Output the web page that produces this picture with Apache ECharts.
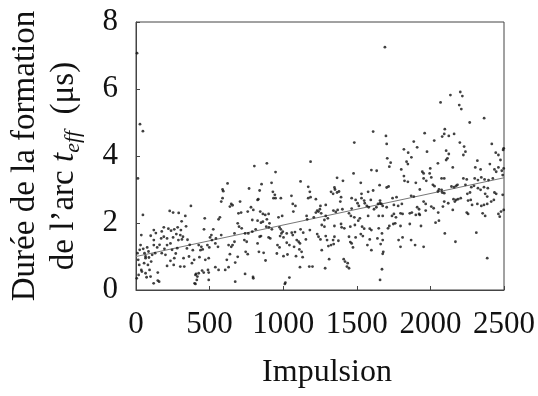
<!DOCTYPE html>
<html>
<head>
<meta charset="utf-8">
<script src="https://cdn.jsdelivr.net/npm/echarts@6/dist/echarts.min.js"></script>
<style>
html,body{margin:0;padding:0;background:#fff;}
#chart{width:538px;height:396px;}
</style>
</head>
<body>
<div id="chart"></div>
<script>
// Tick values
const xTicks = [0, 500, 1000, 1500, 2000, 2500];
const yTicks = [0, 2, 4, 6, 8];

// Trend line
const trendX = [0, 2500];
const trendY = [1.0, 3.35];

// Scatter points [impulsion, durée], by region
const ptsA = [[7,7.07],[27,4.95],[47,4.74],[13,3.33],[47,2.24],
[229,2.36],[252,2.31],[373,2.51],[335,2.21],[121,1.79],[36,1.64],[189,1.87],[220,1.83],[238,1.77],[260,1.81],[283,1.87],[305,1.79],[274,1.67],[301,1.64],[319,1.59],[312,1.51],[288,1.49],[252,1.57],[171,1.54],[121,1.34],[144,1.27],[193,1.23],[211,1.34],[234,1.39],[346,1.24],[31,1.34],[49,1.23],[76,1.27],[65,0.95],[88,0.97],[103,0.85],[81,0.75],[22,0.75],[36,0.6],[18,0.45],[65,0.5],[72,0.38],[99,0.4],[148,0.52],[148,0.28],[211,0.72],[234,0.87],[260,0.95],[256,0.75],[301,0.7],[328,0.7],[323,0.95],[270,1.09],[386,1.19],[395,0.9],[404,0.45],[413,0.3],[404,0.18],[157,0.25],[121,1.49],[65,1.0],[189,1.59],[211,1.54],
[10,1.1],[15,0.9],[25,1.2],[40,0.55],[55,0.8],[58,1.1],[85,1.15],[110,1.05],[130,1.1],[160,1.35],[175,1.1],[200,1.05],[245,1.2],[280,1.25],[350,1.5],[365,1.35],[380,0.8],[100,1.62],[135,1.7],[175,1.75],[310,2.05],[290,2.3],[340,1.9],[360,1.0],[5,0.35],[92,0.6],[120,0.2]];

const ptsB = [[804,3.70],[622,3.18],[588,3.0],[593,2.95],[768,3.03],[579,2.64],[588,2.74],[647,2.57],[656,2.53],[638,2.49],[707,2.64],[826,2.69],[467,2.14],[561,2.11],[570,2.17],[525,1.81],[462,1.81],[696,2.29],[714,2.31],[759,2.34],[781,2.47],[797,2.39],[826,2.07],[790,2.09],[691,1.99],[700,1.89],[718,1.84],[741,1.69],[763,1.69],[790,1.74],[813,1.81],[669,1.69],[579,1.64],[512,1.64],[503,1.57],[516,1.49],[539,1.39],[557,1.29],[543,1.54],[426,1.34],[444,1.29],[453,1.21],[438,1.19],[485,1.34],[498,1.27],[629,1.34],[647,1.29],[656,1.34],[669,1.44],[736,1.49],[752,1.44],[826,1.39],[431,0.98],[471,0.9],[494,0.95],[638,1.07],[691,0.99],[745,1.14],[759,1.07],[617,0.9],[539,0.68],[561,0.6],[606,0.6],[629,0.68],[674,0.82],[449,0.58],[460,0.52],[426,0.5],[489,0.6],[494,0.52],[408,0.48],[417,0.4],[741,0.48],[797,0.35],[674,0.25],[494,0.3],[398,0.2],[795,0.39]];

const ptsC = [[889,3.78],[1186,3.83],[948,3.52],[1118,3.24],[853,3.16],[921,3.2],[840,2.97],[930,2.93],[943,2.84],[934,2.74],[948,2.74],[984,2.74],[1056,2.81],[1065,2.57],[1083,2.51],[1170,3.08],[1181,2.93],[1170,2.74],[1186,2.77],[1222,2.71],[831,2.71],[844,2.34],[862,2.27],[878,2.24],[901,2.27],[849,2.01],[862,2.04],[889,2.11],[907,1.99],[968,2.17],[993,2.21],[1069,2.34],[1159,2.21],[1163,2.11],[1222,2.31],[1231,2.37],[1240,2.34],[1249,2.41],[1208,2.17],[885,1.89],[903,1.87],[923,1.81],[975,1.87],[984,1.81],[997,1.74],[988,1.69],[1024,1.69],[1058,1.71],[1080,1.73],[1065,1.64],[1118,1.81],[1136,1.71],[1181,1.79],[849,1.61],[840,1.59],[901,1.57],[912,1.54],[979,1.61],[1002,1.57],[1231,1.67],[1240,1.59],[1092,1.49],[1105,1.44],[1114,1.39],[1154,1.51],[961,1.34],[975,1.27],[1024,1.41],[1042,1.34],[1074,1.29],[835,1.14],[867,1.11],[1002,1.01],[1029,1.06],[1087,1.01],[1110,1.21],[1125,1.14],[1132,0.98],[880,0.88],[957,1.09],[1114,0.68],[1177,0.7],[1199,0.7],[1042,0.37],[1011,0.18],[1015,0.22]];

const ptsD = [[1611,4.73],[1483,4.4],[1366,3.35],[1406,3.26],[1599,3.58],[1635,3.56],[1478,3.48],[1527,3.2],[1348,3.06],[1325,2.93],[1339,2.87],[1366,2.91],[1379,2.94],[1352,3.0],[1532,2.87],[1577,2.93],[1611,2.97],[1655,3.13],[1393,2.77],[1388,2.64],[1465,2.74],[1492,2.69],[1532,2.74],[1550,2.67],[1595,2.69],[1658,2.67],[1289,2.54],[1253,2.51],[1258,2.29],[1341,2.37],[1357,2.33],[1370,2.39],[1402,2.41],[1465,2.43],[1505,2.59],[1514,2.51],[1554,2.59],[1568,2.51],[1581,2.47],[1617,2.41],[1633,2.47],[1644,2.57],[1667,2.57],[1289,2.21],[1303,2.14],[1280,2.09],[1447,2.29],[1460,2.21],[1483,2.17],[1510,2.07],[1521,2.14],[1577,2.21],[1649,2.21],[1262,1.94],[1280,1.89],[1348,1.91],[1393,1.97],[1397,1.87],[1415,1.84],[1456,1.89],[1487,1.94],[1536,1.89],[1550,1.83],[1588,1.83],[1599,1.79],[1649,1.84],[1253,1.51],[1289,1.61],[1298,1.49],[1348,1.59],[1339,1.49],[1375,1.47],[1447,1.59],[1456,1.43],[1465,1.39],[1492,1.57],[1527,1.67],[1541,1.61],[1588,1.51],[1640,1.54],[1307,1.31],[1325,1.34],[1343,1.37],[1474,1.27],[1572,1.34],[1262,1.19],[1599,1.19],[1662,1.37],[1312,0.92],[1411,0.92],[1420,0.85],[1438,0.8],[1433,0.7],[1447,0.65],[1285,0.65],[1658,0.3]];

const ptsE = [[1691,7.25],[1698,4.6],[1703,4.36],[1961,4.68],[2080,4.58],[2026,4.46],[1887,4.43],[1910,4.26],[1820,4.2],[1849,4.1],[1977,4.13],[1707,3.93],[1730,3.8],[1721,3.68],[1871,3.96],[1838,3.83],[1847,3.76],[1802,3.6],[1945,3.53],[1954,3.48],[1999,3.63],[1995,3.48],[2006,3.36],[2051,3.78],[1820,3.4],[1824,3.26],[1847,3.23],[1954,3.33],[1972,3.26],[2076,3.33],[1703,3.06],[1716,3.09],[1901,3.2],[2017,3.14],[2028,3.1],[2058,3.0],[2076,2.99],[1928,3.0],[1770,2.77],[1743,2.74],[1869,2.81],[1887,2.79],[2051,2.94],[1658,2.59],[1676,2.51],[1703,2.47],[1752,2.54],[1781,2.51],[1806,2.57],[1910,2.47],[1923,2.41],[1954,2.64],[1968,2.57],[2006,2.49],[2022,2.44],[2085,2.49],[1676,2.21],[1739,2.21],[1752,2.27],[1766,2.17],[1797,2.29],[1811,2.27],[1860,2.29],[1874,2.31],[1901,2.24],[1923,2.27],[1928,2.24],[1968,2.37],[2053,2.31],[1712,1.84],[1721,1.91],[1748,1.97],[1761,1.99],[1797,1.91],[1860,1.97],[1936,1.91],[2035,2.01],[2058,2.07],[1671,1.69],[1676,1.49],[1784,1.49],[1811,1.57],[1869,1.49],[1797,1.29],[1896,1.34],[1954,1.29],[1680,1.14],[1676,1.08],[1671,0.62]];

const ptsF = [[2136,5.82],[2203,5.91],[2217,5.79],[2196,5.52],[2210,5.4],[2069,5.6],[2365,5.13],[2267,5.0],[2094,4.66],[2125,4.6],[2161,4.66],[2098,4.8],[2200,4.4],[2229,4.28],[2417,4.36],[2107,4.16],[2125,4.06],[2116,3.93],[2107,3.88],[2238,4.13],[2224,4.03],[2444,4.1],[2462,4.03],[2476,3.88],[2494,4.18],[2498,4.23],[2319,3.86],[2305,3.66],[2341,3.6],[2404,3.76],[2152,3.66],[2435,3.6],[2447,3.53],[2462,3.66],[2485,3.56],[2498,3.63],[2491,3.43],[2094,3.33],[2224,3.33],[2247,3.3],[2238,3.14],[2301,3.33],[2323,3.28],[2346,3.36],[2368,3.3],[2395,3.28],[2424,3.33],[2175,3.11],[2184,3.14],[2161,3.07],[2143,3.09],[2278,3.07],[2296,3.11],[2323,3.04],[2341,2.99],[2364,3.07],[2390,3.04],[2080,2.91],[2094,2.89],[2251,2.87],[2269,2.91],[2372,2.87],[2386,2.79],[2435,2.91],[2447,2.87],[2491,2.84],[2157,2.71],[2175,2.69],[2188,2.71],[2166,2.64],[2206,2.74],[2256,2.67],[2274,2.69],[2319,2.57],[2346,2.51],[2364,2.54],[2386,2.57],[2413,2.64],[2431,2.69],[2283,2.54],[2498,2.39],[2480,2.34],[2462,2.27],[2471,2.19],[2121,2.59],[2094,2.64],[2247,2.31],[2256,2.27],[2355,2.29],[2372,2.21],[2152,2.39],[2098,1.69],[2312,1.71],[2170,1.44],[2386,0.95]];

const points = [].concat(ptsA, ptsB, ptsC, ptsD, ptsE, ptsF);

const SERIF = 'Liberation Serif';
const chart = echarts.init(document.getElementById('chart'), null, {renderer: 'canvas'});

chart.setOption({
  animation: false,
  backgroundColor: '#fff',
  grid: {left: 136, right: 31, top: 22, bottom: 106, show: true, borderColor: '#444', borderWidth: 1},
  xAxis: {
    type: 'value', min: xTicks[0], max: xTicks[xTicks.length - 1], interval: 500,
    axisLine: {show: true, lineStyle: {color: '#444', width: 1}},
    axisTick: {show: true, inside: true, length: 4, lineStyle: {color: '#444'}},
    axisLabel: {margin: 19, fontFamily: SERIF, fontSize: 31, color: '#111', formatter: v => String(v)},
    splitLine: {show: false}
  },
  yAxis: {
    type: 'value', min: yTicks[0], max: yTicks[yTicks.length - 1], interval: 2,
    axisLine: {show: true, lineStyle: {color: '#444', width: 1}},
    axisTick: {show: true, inside: true, length: 4, lineStyle: {color: '#444'}},
    axisLabel: {margin: 18, fontFamily: SERIF, fontSize: 31, color: '#111', formatter: v => String(v)},
    splitLine: {show: false}
  },
  graphic: [
    {type: 'text', x: 25, y: 156, rotation: Math.PI / 2,
     style: {text: 'Durée de la formation', font: '33px "Liberation Serif"', fill: '#111', align: 'center', verticalAlign: 'middle'}},
    {type: 'text', x: 64, y: 166, rotation: Math.PI / 2,
     style: {
       text: '{n|de l\u2019arc }{t|t}{s|eff}{n|  (\u03BCs)}',
       align: 'center', verticalAlign: 'middle',
       rich: {
         n: {fontFamily: SERIF, fontSize: 33, lineHeight: 40, verticalAlign: 'middle', fill: '#111'},
         t: {fontFamily: SERIF, fontStyle: 'italic', fontSize: 33, lineHeight: 40, verticalAlign: 'middle', fill: '#111'},
         s: {fontFamily: SERIF, fontStyle: 'italic', fontSize: 22, lineHeight: 22, verticalAlign: 'bottom', fill: '#111'}
       }
     }},
    {type: 'text', x: 327, y: 373,
     style: {text: 'Impulsion', font: '32px "Liberation Serif"', fill: '#111', align: 'center', verticalAlign: 'middle'}}
  ],
  series: [
    {type: 'line', data: trendX.map((x, i) => [x, trendY[i]]), showSymbol: false, symbol: 'none',
     lineStyle: {color: '#777', width: 1}, silent: true, z: 1},
    {type: 'scatter', data: points, symbol: 'circle', symbolSize: 2.8,
     itemStyle: {color: '#111'}, silent: true, z: 2}
  ]
});
</script>
</body>
</html>
